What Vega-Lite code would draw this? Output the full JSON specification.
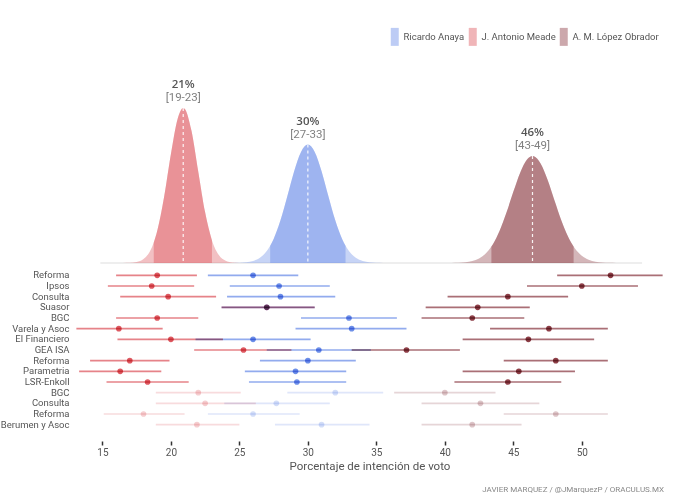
{
  "$schema": "https://vega.github.io/schema/vega-lite/v6.json",
  "padding": {"left": 0, "top": 32, "right": 10, "bottom": 4},
  "background": "white",
  "config": {"view": {"stroke": null}, "font": "Roboto"},
  "title": {"text": "JAVIER MARQUEZ / @JMarquezP / ORACULUS.MX", "orient": "bottom", "anchor": "end", "frame": "group", "fontSize": 8, "fontWeight": "normal", "color": "#888888", "font": "Roboto", "offset": 14},
  "spacing": 5,
  "datasets": {
    "resumen": [
      {"candidato": "J. Antonio Meade", "media": 20.9, "pico": 0.3728, "pct": "21%", "ic": "[19-23]", "lim_inf": 18.75, "lim_sup": 23},
      {"candidato": "Ricardo Anaya", "media": 30.0, "pico": 0.2849, "pct": "30%", "ic": "[27-33]", "lim_inf": 27.25, "lim_sup": 32.75},
      {"candidato": "A. M. López Obrador", "media": 46.4, "pico": 0.2574, "pct": "46%", "ic": "[43-49]", "lim_inf": 43.4, "lim_sup": 49.4}
    ],
    "densidad": [
      {"candidato": "J. Antonio Meade", "x": 16, "d": 0.0},
      {"candidato": "J. Antonio Meade", "x": 16.5, "d": 0.0001},
      {"candidato": "J. Antonio Meade", "x": 17, "d": 0.0005},
      {"candidato": "J. Antonio Meade", "x": 17.5, "d": 0.0024},
      {"candidato": "J. Antonio Meade", "x": 18, "d": 0.0095},
      {"candidato": "J. Antonio Meade", "x": 18.5, "d": 0.0301},
      {"candidato": "J. Antonio Meade", "x": 18.75, "d": 0.0495},
      {"candidato": "J. Antonio Meade", "x": 19, "d": 0.077},
      {"candidato": "J. Antonio Meade", "x": 19.5, "d": 0.1584},
      {"candidato": "J. Antonio Meade", "x": 20, "d": 0.2618},
      {"candidato": "J. Antonio Meade", "x": 20.5, "d": 0.3477},
      {"candidato": "J. Antonio Meade", "x": 20.9, "d": 0.3728},
      {"candidato": "J. Antonio Meade", "x": 21, "d": 0.3712},
      {"candidato": "J. Antonio Meade", "x": 21.5, "d": 0.3186},
      {"candidato": "J. Antonio Meade", "x": 22, "d": 0.2198},
      {"candidato": "J. Antonio Meade", "x": 22.5, "d": 0.1219},
      {"candidato": "J. Antonio Meade", "x": 23, "d": 0.0543},
      {"candidato": "J. Antonio Meade", "x": 23.5, "d": 0.0195},
      {"candidato": "J. Antonio Meade", "x": 24, "d": 0.0056},
      {"candidato": "J. Antonio Meade", "x": 24.5, "d": 0.0013},
      {"candidato": "J. Antonio Meade", "x": 25, "d": 0.0002},
      {"candidato": "J. Antonio Meade", "x": 25.5, "d": 0.0},
      {"candidato": "Ricardo Anaya", "x": 24, "d": 0.0},
      {"candidato": "Ricardo Anaya", "x": 24.5, "d": 0.0001},
      {"candidato": "Ricardo Anaya", "x": 25, "d": 0.0005},
      {"candidato": "Ricardo Anaya", "x": 25.5, "d": 0.0016},
      {"candidato": "Ricardo Anaya", "x": 26, "d": 0.0048},
      {"candidato": "Ricardo Anaya", "x": 26.5, "d": 0.0125},
      {"candidato": "Ricardo Anaya", "x": 27, "d": 0.0287},
      {"candidato": "Ricardo Anaya", "x": 27.25, "d": 0.0414},
      {"candidato": "Ricardo Anaya", "x": 27.5, "d": 0.0579},
      {"candidato": "Ricardo Anaya", "x": 28, "d": 0.1027},
      {"candidato": "Ricardo Anaya", "x": 28.5, "d": 0.1605},
      {"candidato": "Ricardo Anaya", "x": 29, "d": 0.2208},
      {"candidato": "Ricardo Anaya", "x": 29.5, "d": 0.2674},
      {"candidato": "Ricardo Anaya", "x": 30, "d": 0.2849},
      {"candidato": "Ricardo Anaya", "x": 30.5, "d": 0.2674},
      {"candidato": "Ricardo Anaya", "x": 31, "d": 0.2208},
      {"candidato": "Ricardo Anaya", "x": 31.5, "d": 0.1605},
      {"candidato": "Ricardo Anaya", "x": 32, "d": 0.1027},
      {"candidato": "Ricardo Anaya", "x": 32.5, "d": 0.0579},
      {"candidato": "Ricardo Anaya", "x": 32.75, "d": 0.0414},
      {"candidato": "Ricardo Anaya", "x": 33, "d": 0.0287},
      {"candidato": "Ricardo Anaya", "x": 33.5, "d": 0.0125},
      {"candidato": "Ricardo Anaya", "x": 34, "d": 0.0048},
      {"candidato": "Ricardo Anaya", "x": 34.5, "d": 0.0016},
      {"candidato": "Ricardo Anaya", "x": 35, "d": 0.0005},
      {"candidato": "Ricardo Anaya", "x": 35.5, "d": 0.0001},
      {"candidato": "Ricardo Anaya", "x": 36, "d": 0.0},
      {"candidato": "A. M. López Obrador", "x": 40, "d": 0.0001},
      {"candidato": "A. M. López Obrador", "x": 40.5, "d": 0.0002},
      {"candidato": "A. M. López Obrador", "x": 41, "d": 0.0006},
      {"candidato": "A. M. López Obrador", "x": 41.5, "d": 0.0017},
      {"candidato": "A. M. López Obrador", "x": 42, "d": 0.0046},
      {"candidato": "A. M. López Obrador", "x": 42.5, "d": 0.0109},
      {"candidato": "A. M. López Obrador", "x": 43, "d": 0.0232},
      {"candidato": "A. M. López Obrador", "x": 43.4, "d": 0.0396},
      {"candidato": "A. M. López Obrador", "x": 43.5, "d": 0.0447},
      {"candidato": "A. M. López Obrador", "x": 44, "d": 0.0776},
      {"candidato": "A. M. López Obrador", "x": 44.5, "d": 0.1215},
      {"candidato": "A. M. López Obrador", "x": 45, "d": 0.1712},
      {"candidato": "A. M. López Obrador", "x": 45.5, "d": 0.2174},
      {"candidato": "A. M. López Obrador", "x": 46, "d": 0.2489},
      {"candidato": "A. M. López Obrador", "x": 46.4, "d": 0.2574},
      {"candidato": "A. M. López Obrador", "x": 46.5, "d": 0.2568},
      {"candidato": "A. M. López Obrador", "x": 47, "d": 0.2388},
      {"candidato": "A. M. López Obrador", "x": 47.5, "d": 0.2001},
      {"candidato": "A. M. López Obrador", "x": 48, "d": 0.1511},
      {"candidato": "A. M. López Obrador", "x": 48.5, "d": 0.1028},
      {"candidato": "A. M. López Obrador", "x": 49, "d": 0.063},
      {"candidato": "A. M. López Obrador", "x": 49.4, "d": 0.0396},
      {"candidato": "A. M. López Obrador", "x": 49.5, "d": 0.0348},
      {"candidato": "A. M. López Obrador", "x": 50, "d": 0.0174},
      {"candidato": "A. M. López Obrador", "x": 50.5, "d": 0.0078},
      {"candidato": "A. M. López Obrador", "x": 51, "d": 0.0031},
      {"candidato": "A. M. López Obrador", "x": 51.5, "d": 0.0011},
      {"candidato": "A. M. López Obrador", "x": 52, "d": 0.0004},
      {"candidato": "A. M. López Obrador", "x": 52.5, "d": 0.0001},
      {"candidato": "A. M. López Obrador", "x": 53, "d": 0.0}
    ],
    "encuestas": [
      {"id": "Reforma|1", "candidato": "J. Antonio Meade", "valor": 19.0, "lo": 16.0, "hi": 21.9, "periodo": "reciente"},
      {"id": "Reforma|1", "candidato": "Ricardo Anaya", "valor": 26.0, "lo": 22.7, "hi": 29.3, "periodo": "reciente"},
      {"id": "Reforma|1", "candidato": "A. M. López Obrador", "valor": 52.1, "lo": 48.2, "hi": 55.9, "periodo": "reciente"},
      {"id": "Ipsos|2", "candidato": "J. Antonio Meade", "valor": 18.6, "lo": 15.4, "hi": 21.7, "periodo": "reciente"},
      {"id": "Ipsos|2", "candidato": "Ricardo Anaya", "valor": 27.9, "lo": 24.3, "hi": 31.6, "periodo": "reciente"},
      {"id": "Ipsos|2", "candidato": "A. M. López Obrador", "valor": 50.0, "lo": 46.0, "hi": 54.1, "periodo": "reciente"},
      {"id": "Consulta|3", "candidato": "J. Antonio Meade", "valor": 19.8, "lo": 16.3, "hi": 23.3, "periodo": "reciente"},
      {"id": "Consulta|3", "candidato": "Ricardo Anaya", "valor": 28.0, "lo": 24.1, "hi": 32.0, "periodo": "reciente"},
      {"id": "Consulta|3", "candidato": "A. M. López Obrador", "valor": 44.6, "lo": 40.2, "hi": 49.0, "periodo": "reciente"},
      {"id": "Suasor|4", "candidato": "J. Antonio Meade", "valor": 27.0, "lo": 23.7, "hi": 30.5, "periodo": "reciente"},
      {"id": "Suasor|4", "candidato": "Ricardo Anaya", "valor": 27.0, "lo": 23.7, "hi": 30.5, "periodo": "reciente"},
      {"id": "Suasor|4", "candidato": "A. M. López Obrador", "valor": 42.4, "lo": 38.6, "hi": 46.2, "periodo": "reciente"},
      {"id": "BGC|5", "candidato": "J. Antonio Meade", "valor": 19.0, "lo": 16.0, "hi": 22.0, "periodo": "reciente"},
      {"id": "BGC|5", "candidato": "Ricardo Anaya", "valor": 33.0, "lo": 29.5, "hi": 36.5, "periodo": "reciente"},
      {"id": "BGC|5", "candidato": "A. M. López Obrador", "valor": 42.0, "lo": 38.3, "hi": 45.8, "periodo": "reciente"},
      {"id": "Varela y Asoc|6", "candidato": "J. Antonio Meade", "valor": 16.2, "lo": 13.1, "hi": 19.4, "periodo": "reciente"},
      {"id": "Varela y Asoc|6", "candidato": "Ricardo Anaya", "valor": 33.2, "lo": 29.1, "hi": 37.2, "periodo": "reciente"},
      {"id": "Varela y Asoc|6", "candidato": "A. M. López Obrador", "valor": 47.6, "lo": 43.3, "hi": 51.9, "periodo": "reciente"},
      {"id": "El Financiero|7", "candidato": "J. Antonio Meade", "valor": 20.0, "lo": 16.1, "hi": 23.8, "periodo": "reciente"},
      {"id": "El Financiero|7", "candidato": "Ricardo Anaya", "valor": 26.0, "lo": 21.8, "hi": 30.2, "periodo": "reciente"},
      {"id": "El Financiero|7", "candidato": "A. M. López Obrador", "valor": 46.1, "lo": 41.3, "hi": 50.9, "periodo": "reciente"},
      {"id": "GEA ISA|8", "candidato": "J. Antonio Meade", "valor": 25.3, "lo": 21.7, "hi": 28.8, "periodo": "reciente"},
      {"id": "GEA ISA|8", "candidato": "Ricardo Anaya", "valor": 30.8, "lo": 27.0, "hi": 34.6, "periodo": "reciente"},
      {"id": "GEA ISA|8", "candidato": "A. M. López Obrador", "valor": 37.2, "lo": 33.2, "hi": 41.1, "periodo": "reciente"},
      {"id": "Reforma|9", "candidato": "J. Antonio Meade", "valor": 17.0, "lo": 14.1, "hi": 19.9, "periodo": "reciente"},
      {"id": "Reforma|9", "candidato": "Ricardo Anaya", "valor": 30.0, "lo": 26.5, "hi": 33.5, "periodo": "reciente"},
      {"id": "Reforma|9", "candidato": "A. M. López Obrador", "valor": 48.1, "lo": 44.3, "hi": 51.9, "periodo": "reciente"},
      {"id": "Parametria|10", "candidato": "J. Antonio Meade", "valor": 16.3, "lo": 13.3, "hi": 19.3, "periodo": "reciente"},
      {"id": "Parametria|10", "candidato": "Ricardo Anaya", "valor": 29.1, "lo": 25.4, "hi": 32.8, "periodo": "reciente"},
      {"id": "Parametria|10", "candidato": "A. M. López Obrador", "valor": 45.4, "lo": 41.3, "hi": 49.5, "periodo": "reciente"},
      {"id": "LSR-Enkoll|11", "candidato": "J. Antonio Meade", "valor": 18.3, "lo": 15.3, "hi": 21.3, "periodo": "reciente"},
      {"id": "LSR-Enkoll|11", "candidato": "Ricardo Anaya", "valor": 29.2, "lo": 25.7, "hi": 32.8, "periodo": "reciente"},
      {"id": "LSR-Enkoll|11", "candidato": "A. M. López Obrador", "valor": 44.6, "lo": 40.7, "hi": 48.5, "periodo": "reciente"},
      {"id": "BGC|12", "candidato": "J. Antonio Meade", "valor": 22.0, "lo": 18.9, "hi": 25.1, "periodo": "anterior"},
      {"id": "BGC|12", "candidato": "Ricardo Anaya", "valor": 32.0, "lo": 28.5, "hi": 35.5, "periodo": "anterior"},
      {"id": "BGC|12", "candidato": "A. M. López Obrador", "valor": 40.0, "lo": 36.3, "hi": 43.7, "periodo": "anterior"},
      {"id": "Consulta|13", "candidato": "J. Antonio Meade", "valor": 22.5, "lo": 18.9, "hi": 26.2, "periodo": "anterior"},
      {"id": "Consulta|13", "candidato": "Ricardo Anaya", "valor": 27.7, "lo": 23.9, "hi": 31.6, "periodo": "anterior"},
      {"id": "Consulta|13", "candidato": "A. M. López Obrador", "valor": 42.6, "lo": 38.3, "hi": 46.9, "periodo": "anterior"},
      {"id": "Reforma|14", "candidato": "J. Antonio Meade", "valor": 18.0, "lo": 15.1, "hi": 21.0, "periodo": "anterior"},
      {"id": "Reforma|14", "candidato": "Ricardo Anaya", "valor": 26.0, "lo": 22.7, "hi": 29.4, "periodo": "anterior"},
      {"id": "Reforma|14", "candidato": "A. M. López Obrador", "valor": 48.1, "lo": 44.3, "hi": 51.9, "periodo": "anterior"},
      {"id": "Berumen y Asoc|15", "candidato": "J. Antonio Meade", "valor": 21.9, "lo": 18.9, "hi": 25.0, "periodo": "anterior"},
      {"id": "Berumen y Asoc|15", "candidato": "Ricardo Anaya", "valor": 31.0, "lo": 27.6, "hi": 34.5, "periodo": "anterior"},
      {"id": "Berumen y Asoc|15", "candidato": "A. M. López Obrador", "valor": 42.0, "lo": 38.3, "hi": 45.6, "periodo": "anterior"}
    ]
  },
  "vconcat": [
    {
      "width": 589,
      "height": 187,
      "layer": [
        {
          "data": {"values": [{"a": 14.85, "b": 54.4, "c": 0}]},
          "mark": {"type": "rule", "color": "#dddddd", "strokeWidth": 1},
          "encoding": {
            "x": {"field": "a", "type": "quantitative", "scale": {"domain": [13, 56], "nice": false, "zero": false}, "axis": null},
            "x2": {"field": "b"},
            "y": {"field": "c", "type": "quantitative", "scale": {"domain": [0, 0.45]}, "axis": null}
          }
        },
        {
          "data": {"name": "densidad"},
          "mark": {"type": "area", "interpolate": "monotone", "opacity": 0.38},
          "encoding": {
            "x": {"field": "x", "type": "quantitative"},
            "y": {"field": "d", "type": "quantitative", "stack": null},
            "color": {
              "field": "candidato", "type": "nominal",
              "scale": {"domain": ["Ricardo Anaya", "J. Antonio Meade", "A. M. López Obrador"], "range": ["#6d8fe8", "#de5a62", "#8e3f48"]},
              "legend": {
                "orient": "none", "legendX": 315, "legendY": -44, "direction": "horizontal", "title": null,
                "symbolType": "M-1,-2.25L1,-2.25L1,2.25L-1,2.25Z", "symbolSize": 64, "symbolOpacity": 0.6, "symbolStrokeWidth": 0,
                "labelFontSize": 9.5, "labelColor": "#555555", "labelFont": "Roboto", "labelOffset": 4, "columnPadding": 3, "labelLimit": 200
              }
            }
          }
        },
        {
          "data": {"name": "densidad"},
          "transform": [
            {"lookup": "candidato", "from": {"data": {"name": "resumen"}, "key": "candidato", "fields": ["lim_inf", "lim_sup"]}},
            {"filter": "datum.x >= datum.lim_inf && datum.x <= datum.lim_sup"}
          ],
          "mark": {"type": "area", "interpolate": "monotone", "opacity": 0.45},
          "encoding": {
            "x": {"field": "x", "type": "quantitative"},
            "y": {"field": "d", "type": "quantitative", "stack": null},
            "color": {"field": "candidato", "type": "nominal"}
          }
        },
        {
          "data": {"name": "resumen"},
          "mark": {"type": "rule", "color": "white", "strokeDash": [3, 3], "strokeWidth": 1.2, "opacity": 0.9},
          "encoding": {
            "x": {"field": "media", "type": "quantitative"},
            "y": {"field": "pico", "type": "quantitative"},
            "y2": {"datum": 0}
          }
        },
        {
          "data": {"name": "resumen"},
          "mark": {"type": "text", "dy": -23, "fontSize": 11.5, "font": "Open Sans", "fontWeight": 600, "color": "#555555"},
          "encoding": {
            "x": {"field": "media", "type": "quantitative"},
            "y": {"field": "pico", "type": "quantitative"},
            "text": {"field": "pct"}
          }
        },
        {
          "data": {"name": "resumen"},
          "mark": {"type": "text", "dy": -10, "fontSize": 11.5, "font": "Roboto", "color": "#808080"},
          "encoding": {
            "x": {"field": "media", "type": "quantitative"},
            "y": {"field": "pico", "type": "quantitative"},
            "text": {"field": "ic"}
          }
        }
      ]
    },
    {
      "width": 589,
      "height": 160,
      "data": {"name": "encuestas"},
      "layer": [
        {
          "mark": {"type": "rule", "strokeWidth": 1.6, "blend": "multiply"},
          "encoding": {
            "y": {
              "field": "id", "type": "nominal", "sort": null,
              "axis": {"title": null, "domain": false, "ticks": false, "labelPadding": 6,
                       "labelFontSize": 9.5, "labelFont": "Roboto", "labelColor": "#555555",
                       "labelExpr": "split(datum.label, '|')[0]"}
            },
            "x": {
              "field": "lo", "type": "quantitative",
              "scale": {"domain": [13, 56], "nice": false, "zero": false},
              "axis": {"title": "Porcentaje de intención de voto", "values": [15, 20, 25, 30, 35, 40, 45, 50],
                       "domain": false, "grid": false, "offset": 11, "tickColor": "#333333", "tickSize": 4, "tickWidth": 1.5,
                       "labelFontSize": 10, "labelColor": "#555555", "labelFont": "Roboto", "labelPadding": 2,
                       "titleFontSize": 11.5, "titleFontWeight": "normal", "titleColor": "#555555", "titleFont": "Roboto", "titlePadding": 3}
            },
            "x2": {"field": "hi"},
            "color": {"field": "candidato", "type": "nominal", "legend": null},
            "strokeOpacity": {"field": "periodo", "type": "nominal", "scale": {"domain": ["reciente", "anterior"], "range": [0.75, 0.22]}, "legend": null}
          }
        },
        {
          "mark": {"type": "point", "filled": true, "size": 32, "blend": "multiply"},
          "encoding": {
            "y": {"field": "id", "type": "nominal", "sort": null},
            "x": {"field": "valor", "type": "quantitative"},
            "color": {"field": "candidato", "type": "nominal", "legend": null},
            "opacity": {"field": "periodo", "type": "nominal", "scale": {"domain": ["reciente", "anterior"], "range": [1, 0.3]}, "legend": null}
          }
        }
      ]
    }
  ]
}
